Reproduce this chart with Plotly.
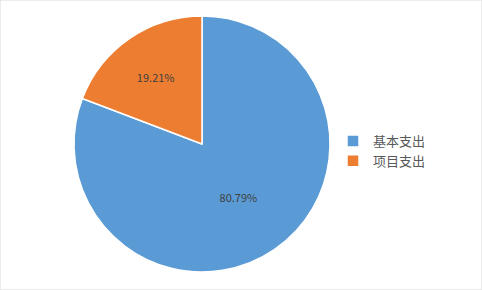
import plotly.graph_objects as go

labels = ["基本支出", "项目支出"]
values = [80.79, 19.21]
colors = ["#5B9BD5", "#ED7D31"]

W, H = 482, 290
fig = go.Figure(go.Pie(
    labels=labels,
    values=values,
    sort=False,
    direction="clockwise",
    rotation=0,
    marker=dict(colors=colors, line=dict(color="white", width=1.5)),
    textinfo="percent",
    texttemplate="%{percent:.2%}",
    textposition="inside",
    insidetextorientation="horizontal",
    textfont=dict(family="Noto Sans CJK SC, DejaVu Sans", size=11, color="#404040"),
    domain=dict(x=[74 / W, 330 / W], y=[(H - 272) / H, (H - 16) / H]),
    hoverinfo="skip",
))

fig.update_layout(
    width=W, height=H,
    margin=dict(l=0, r=0, t=0, b=0),
    paper_bgcolor="white",
    showlegend=True,
    legend=dict(
        x=333 / W, y=(H - 151) / H, xanchor="left", yanchor="middle",
        font=dict(family="Noto Sans CJK SC", size=13, color="#595959"),
        itemwidth=30, tracegroupgap=0,
    ),
    shapes=[dict(type="rect", xref="paper", yref="paper", x0=0, x1=1, y0=0, y1=1,
                 line=dict(color="#D9D9D9", width=1))],
)

fig.write_html("out.html")
